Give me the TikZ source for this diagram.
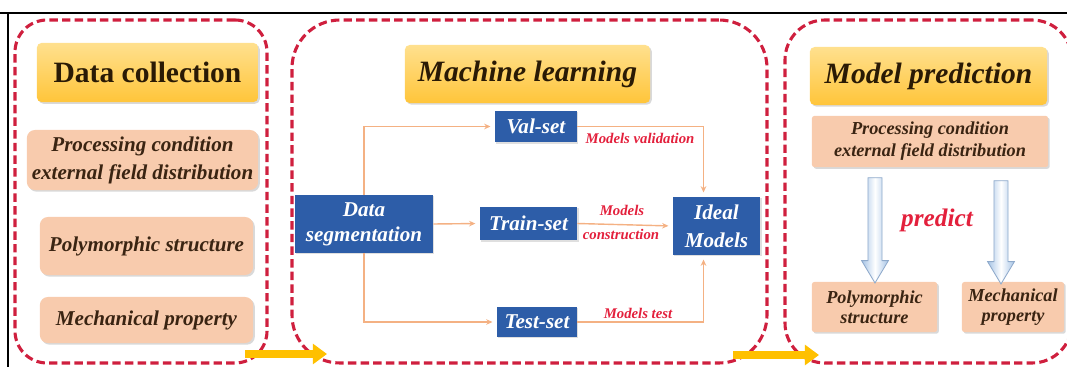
\documentclass[tikz,border=0pt]{standalone}
\usepackage{fontspec}
\setmainfont{Liberation Serif}
\usepackage{tikz}
\usetikzlibrary{
  arrows.meta,
  positioning,
  shapes.arrows,
  shadows,
  calc,
  fit,
}
\definecolor{panelRed}{HTML}{CF1F3E}
\definecolor{titleGold}{HTML}{FFC53A}
\definecolor{titleGoldLight}{HTML}{FFE08E}
\definecolor{titleText}{HTML}{2A1A05}
\definecolor{peach}{HTML}{F8CBAD}
\definecolor{itemText}{HTML}{3A2412}
\definecolor{segBlue}{HTML}{2D5DA8}
\definecolor{linkOrange}{HTML}{F4B183}
\definecolor{noteRed}{HTML}{E3203C}
\definecolor{flowGold}{HTML}{FFC000}
\definecolor{arrowBlue}{HTML}{A6C4E6}
\definecolor{arrowEdge}{HTML}{8FAACB}
\tikzset{
  panel/.style={
    draw=panelRed, line width=2.2pt, dash pattern=on 6pt off 3pt,
    rounded corners=#1, inner sep=0pt,
  },
  titlebox/.style={
    rectangle, rounded corners=0.12cm, top color=titleGoldLight,
    bottom color=titleGold, text=titleText, inner sep=0pt,
    drop shadow={shadow xshift=1.2pt, shadow yshift=-1.2pt, opacity=0.3},
    font=\fontsize{21}{24}\selectfont\bfseries,
  },
  itembox/.style={
    rectangle, rounded corners=0.2cm, fill=peach, text=itemText,
    inner sep=0pt, align=center,
    drop shadow={shadow xshift=1.2pt, shadow yshift=-1.2pt, opacity=0.3},
    font=\fontsize{15}{20}\selectfont\bfseries\itshape,
  },
  itemboxSmall/.style={
    itembox, rounded corners=0.06cm,
    font=\fontsize{13}{15.5}\selectfont\bfseries\itshape,
  },
  segbox/.style={
    rectangle, fill=segBlue, text=white, inner sep=0pt, align=center,
    drop shadow={shadow xshift=1pt, shadow yshift=-1pt, opacity=0.25},
    font=\fontsize{15}{18}\selectfont\bfseries\itshape,
  },
  note/.style={
    text=noteRed, inner sep=1pt,
    font=\fontsize{10.5}{12}\selectfont\bfseries\itshape,
  },
  link/.style={
    draw=linkOrange, line width=1pt, shorten >=3pt,
    -{Stealth[length=4.5pt,width=4pt]},
  },
  flow/.style={
    draw=flowGold, line width=6pt, -{Triangle[length=10pt,width=14pt]},
  },
  bigarrow/.style={
    single arrow, shape border rotate=270, draw=arrowEdge, line width=0.6pt,
    left color=arrowBlue, right color=arrowBlue, middle color=white,
    inner xsep=0.165cm, inner ysep=0pt, single arrow head extend=0.16cm,
    single arrow tip angle=62,
  },
}

\begin{document}
\begin{tikzpicture}[x=0.025cm, y=-0.025cm]
\useasboundingbox (0,0) rectangle (1067,367);
\clip (0,0) rectangle (1067,367);

% page frame
\draw[line width=1.1pt] (0,13) -- (1067,13);
\draw[line width=1.1pt] (8,13) -- (8,367);

% the three stages
\node[panel=0.8cm, fit={(15,20) (267,363)}] (pCollect) {};
\node[panel=1.2cm, fit={(292,20) (767,363)}] (pLearn) {};
\node[panel=1.0cm, fit={(785,20) (1072,363)}] (pPredict) {};

\coordinate (f1a) at (245,354);
\coordinate (f1b) at (327,354);
\coordinate (f2a) at (733,355);
\coordinate (f2b) at (819,355);
\draw[flow] (f1a) -- (f1b);
\draw[flow] (f2a) -- (f2b);

% data collection
\node[titlebox, minimum width=5.53cm, minimum height=1.48cm] (tCollect) at (147.5,72.5) {Data collection};
\node[itembox, minimum width=5.78cm, minimum height=1.5cm] (cond) at (142.5,160)
  {Processing condition\\external field distribution};
\node[itembox, minimum width=5.33cm, minimum height=1.45cm] (poly) at (146.5,246) {Polymorphic structure};
\node[itembox, minimum width=5.33cm, minimum height=1.15cm] (mech) at (146.5,320) {Mechanical property};

% machine learning
\node[titlebox, minimum width=6.13cm, minimum height=1.45cm, font=\fontsize{21}{24}\selectfont\bfseries\itshape]
  (tLearn) at (527.5,74) {Machine learning};
\node[segbox, minimum width=3.45cm, minimum height=1.45cm] (dataSeg) at (364,224) {Data\\segmentation};
\node[segbox, minimum width=2.05cm, minimum height=0.78cm] (valSet) at (536,126.5) {Val-set};
\node[segbox, minimum width=2.43cm, minimum height=0.83cm] (trainSet) at (528.5,223.5) {Train-set};
\node[segbox, minimum width=2.0cm, minimum height=0.75cm] (testSet) at (537,322) {Test-set};
\node[segbox, minimum width=2.18cm, minimum height=1.45cm, font=\fontsize{15}{20}\selectfont\bfseries\itshape]
  (ideal) at (716.5,226) {Ideal\\Models};

\coordinate (mergeTop) at ($(ideal.north)+(-13,0)$);
\coordinate (mergeBot) at ($(ideal.south)+(-13,0)$);
\draw[link] (dataSeg.north) |- (valSet.west);
\draw[link] (dataSeg.east) -- (trainSet.west);
\draw[link] (dataSeg.south) |- (testSet.west);
\draw[link] (valSet.east) -| (mergeTop);
\draw[link] (trainSet.east) -- (ideal.west);
\draw[link] (testSet.east) -| (mergeBot);

\node[note] (nVal) at (640,138) {Models validation};
\node[note] (nBuild1) at (622,210) {Models};
\node[note] (nBuild2) at (621,234) {construction};
\node[note] (nTest) at (638,313) {Models test};

% model prediction
\node[titlebox, minimum width=5.93cm, minimum height=1.45cm, font=\fontsize{21}{24}\selectfont\bfseries\itshape]
  (tPredict) at (928.5,76) {Model prediction};
\node[itemboxSmall, minimum width=5.9cm, minimum height=1.28cm] (predIn) at (930,141.5)
  {Processing condition\\external field distribution};
\node[itemboxSmall, minimum width=3.13cm, minimum height=1.25cm, font=\fontsize{13}{14.5}\selectfont\bfseries\itshape]
  (predPoly) at (874.5,307) {Polymorphic\\structure};
\node[itemboxSmall, minimum width=2.55cm, minimum height=1.25cm, font=\fontsize{13}{14.5}\selectfont\bfseries\itshape]
  (predMech) at (1013,307) {Mechanical\\property};

\node[bigarrow, minimum height=2.63cm] (arrPoly) at (875,224.5) {};
\node[bigarrow, minimum height=2.58cm] (arrMech) at (1001,226.5) {};
\node[text=noteRed, font=\fontsize{18}{20}\selectfont\bfseries\itshape] (predict) at (937,220) {predict};

\end{tikzpicture}
\end{document}
